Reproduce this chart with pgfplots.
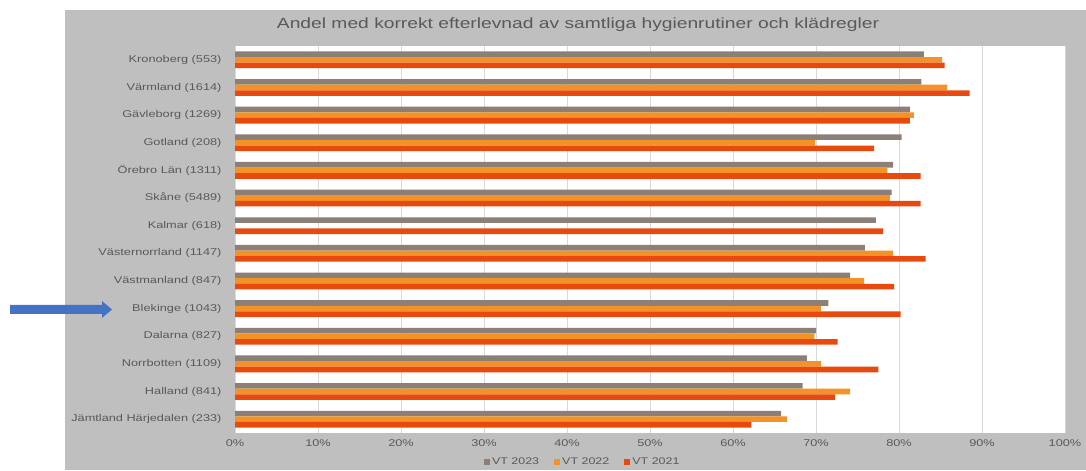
\documentclass[border=0pt]{standalone}
\usepackage{pgfplots}
\usepackage{pgfplotstable}
\pgfplotsset{compat=1.18}
\usepackage{fontspec}
\setmainfont{Liberation Sans}[FakeStretch=1.3]
\definecolor{c23}{HTML}{8C7F77}
\definecolor{c22}{HTML}{F39226}
\definecolor{c21}{HTML}{E8490F}
\definecolor{panel}{HTML}{BFBFBF}
\definecolor{txt}{HTML}{595959}
\definecolor{gridc}{HTML}{D9D9D9}
\definecolor{arrowblue}{HTML}{4472C4}
\pgfplotstableread{
idx v23 v22 v21
0 83.0 85.2 85.5
1 82.7 85.8 88.5
2 81.3 81.8 81.3
3 80.3 69.9 77.0
4 79.3 78.6 82.6
5 79.1 78.9 82.6
6 77.2 nan 78.1
7 75.9 79.3 83.2
8 74.1 75.8 79.4
9 71.5 70.6 80.2
10 70.0 69.8 72.6
11 68.9 70.6 77.5
12 68.4 74.1 72.3
13 65.8 66.5 62.2
}\data
\begin{document}
\begin{tikzpicture}[x=1pt,y=1pt]
\fill[white] (0,0) rectangle (1086,470);
\fill[panel] (65,0) rectangle (1086,460);
\node[text=txt, font=\fontsize{14.8}{17}\selectfont] at (578,445) {Andel med korrekt efterlevnad av samtliga hygienrutiner och klädregler};
\fill[arrowblue] (10,156) -- (102,156) -- (102,152) -- (112,160.5) -- (102,169) -- (102,165) -- (10,165) -- cycle;
\begin{axis}[
  at={(235pt,37pt)}, anchor=south west, scale only axis,
  width=830pt, height=387pt,
  xbar, bar width=5.6pt,
  xmin=0, xmax=100, ymin=-0.5, ymax=13.5, y dir=reverse,
  ytick={0,...,13},
  yticklabels={Kronoberg (553),Värmland (1614),Gävleborg (1269),Gotland (208),Örebro Län (1311),Skåne (5489),Kalmar (618),Västernorrland (1147),Västmanland (847),Blekinge (1043),Dalarna (827),Norrbotten (1109),Halland (841),Jämtland Härjedalen (233)},
  xtick={0,10,...,100},
  xticklabel={\pgfmathprintnumber{\tick}\%},
  xmajorgrids, grid style={draw=gridc, line width=0.9pt},
  axis line style={draw=none}, major tick length=0pt,
  axis background/.style={fill=white},
  tick label style={text=txt, font=\fontsize{9.8}{11}\selectfont},
  yticklabel style={xshift=-10pt},
  xticklabel style={yshift=-3pt},
  /pgf/number format/assume math mode=true,
  legend style={at={(0.419,-0.075)}, anchor=center, legend columns=3, draw=none, fill=none,
    font=\fontsize{9.6}{11}\selectfont, text=txt,
    /tikz/every even column/.append style={column sep=13pt}},
  legend image code/.code={\fill[#1] (0pt,-3pt) rectangle (6pt,3pt);},
]
\addplot[fill=c23, draw=none, bar shift=5.6pt] table[x=v23, y=idx]{\data};
\addlegendentry{VT 2023}
\addplot[fill=c22, draw=none, bar shift=0pt] table[x=v22, y=idx]{\data};
\addlegendentry{VT 2022}
\addplot[fill=c21, draw=none, bar shift=-5.6pt] table[x=v21, y=idx]{\data};
\addlegendentry{VT 2021}
\end{axis}
\end{tikzpicture}
\end{document}
